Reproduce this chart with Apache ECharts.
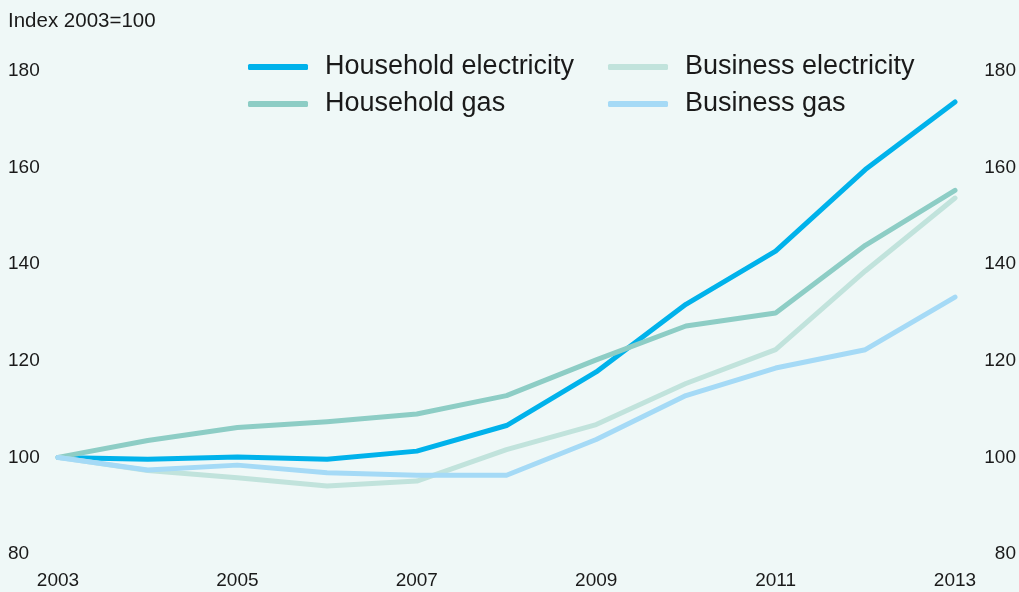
<!DOCTYPE html>
<html>
<head>
<meta charset="utf-8">
<script src="https://cdn.jsdelivr.net/npm/echarts@6/dist/echarts.min.js"></script>
<style>
html,body{margin:0;padding:0;background:#eff8f7;}
#c{width:1019px;height:592px;}
</style>
</head>
<body>
<div id="c"></div>
<script>
const years = ['2003','2004','2005','2006','2007','2008','2009','2010','2011','2012','2013'];
const householdElectricity = [100, 99.6, 100.1, 99.6, 101.3, 106.6, 117.7, 131.7, 142.7, 159.6, 173.6];
const householdGas = [100, 103.5, 106.2, 107.4, 109.0, 112.8, 120.2, 127.2, 129.9, 143.9, 155.3];
const businessElectricity = [100, 97.3, 95.8, 94.1, 95.1, 101.6, 106.8, 115.3, 122.3, 138.6, 153.7];
const businessGas = [100, 97.4, 98.4, 96.8, 96.3, 96.3, 103.7, 112.8, 118.5, 122.3, 133.2];
const yTicks = {min: 80, max: 180, interval: 20};
const unitLabel = 'Index 2003=100';

const colors = {
  'Household electricity': '#00b2eb',
  'Household gas': '#8dcdc5',
  'Business electricity': '#c1e3dc',
  'Business gas': '#a5daf6'
};
const font = '"Liberation Sans", Arial, Helvetica, sans-serif';

const chart = echarts.init(document.getElementById('c'));
function mkLine(name, data) {
  return {
    name, type: 'line', data, symbol: 'none', yAxisIndex: 0,
    lineStyle: {width: 5, color: colors[name], cap: 'round', join: 'round'},
    itemStyle: {color: colors[name]}
  };
}
const legendCommon = {
  orient: 'vertical', top: 52, padding: 0, itemWidth: 60, itemHeight: 6, itemGap: 7,
  icon: 'roundRect',
  textStyle: {fontSize: 27, color: '#1a1a1a', fontFamily: font, lineHeight: 30, padding: [0,0,0,12]}
};
chart.setOption({
  backgroundColor: '#eff8f7',
  animation: false,
  title: {text: unitLabel, left: 3, top: 6, textStyle: {fontSize: 20.5, fontWeight: 'normal', color: '#1a1a1a', fontFamily: font}},
  legend: [
    Object.assign({}, legendCommon, {left: 248, data: ['Household electricity', 'Household gas']}),
    Object.assign({}, legendCommon, {left: 608, data: ['Business electricity', 'Business gas']})
  ],
  grid: {left: 58, right: 64, top: 71, bottom: 38, containLabel: false},
  xAxis: {
    type: 'category', data: years, boundaryGap: false,
    axisLine: {show: false}, axisTick: {show: false}, splitLine: {show: false},
    axisLabel: {interval: 1, margin: 17, fontSize: 19, color: '#1a1a1a', fontFamily: font}
  },
  yAxis: [
    {type: 'value', position: 'left', min: yTicks.min, max: yTicks.max, interval: yTicks.interval,
     axisLine: {show: false}, axisTick: {show: false}, splitLine: {show: false},
     axisLabel: {align: 'left', margin: 50, fontSize: 19, color: '#1a1a1a', fontFamily: font}},
    {type: 'value', position: 'right', min: yTicks.min, max: yTicks.max, interval: yTicks.interval,
     axisLine: {show: false}, axisTick: {show: false}, splitLine: {show: false},
     axisLabel: {align: 'right', margin: 61, fontSize: 19, color: '#1a1a1a', fontFamily: font}}
  ],
  series: [
    mkLine('Household electricity', householdElectricity),
    mkLine('Household gas', householdGas),
    mkLine('Business electricity', businessElectricity),
    mkLine('Business gas', businessGas)
  ]
});
</script>
</body>
</html>
